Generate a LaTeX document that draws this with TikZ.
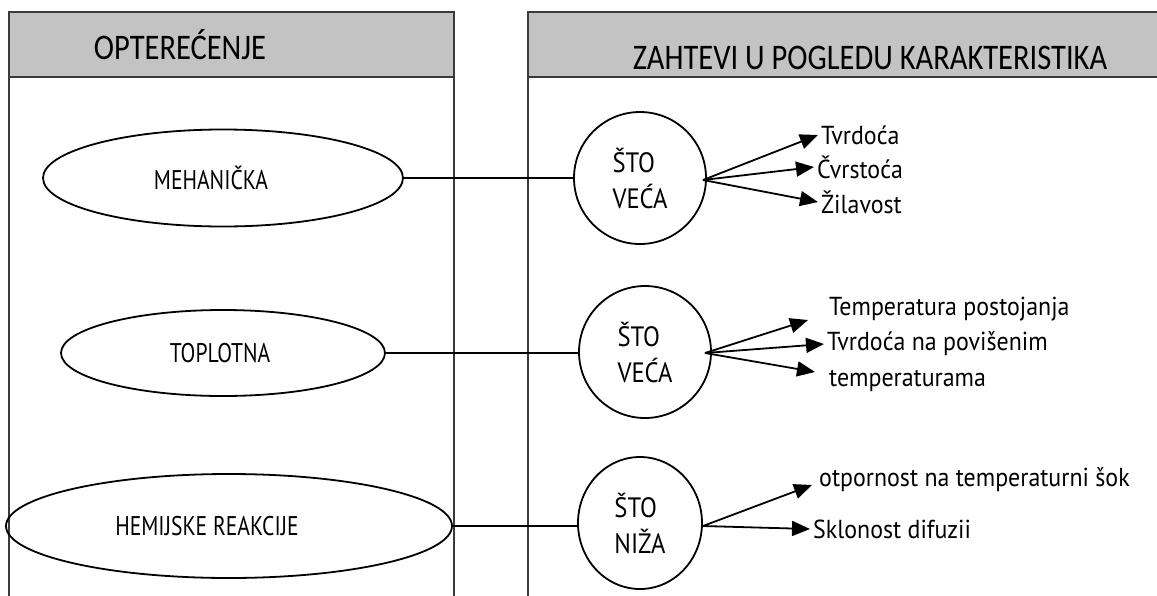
\documentclass[tikz,border=0pt]{standalone}
\usepackage{fontspec}
\setmainfont{PT Sans}
\newfontfamily\hdrfont{Carlito}
\newfontfamily\circfont[FakeStretch=0.88]{PT Sans}
\newfontfamily\itemfont[FakeStretch=0.92]{PT Sans}
\newfontfamily\ellfont[FakeStretch=0.8]{PT Sans}
\usetikzlibrary{arrows.meta,shapes.geometric}
\definecolor{hdrgray}{HTML}{C3C3C3}
\definecolor{panelline}{HTML}{3A3A3A}
\tikzset{
  panel/.style={draw=panelline, line width=2pt},
  hdrtext/.style={font=\hdrfont\fontsize{30.5}{34}\selectfont, inner sep=0pt},
  ell/.style={draw, ellipse, line width=1.8pt, inner sep=0pt, font=\ellfont\fontsize{27}{30}\selectfont},
  circ/.style={draw, circle, line width=1.8pt, inner sep=0pt, minimum size=132pt, align=left, font=\circfont\fontsize{28}{36}\selectfont},
  conn/.style={line width=1.8pt},
  arr/.style={line width=1.8pt, -{Triangle[length=18pt,width=15pt]}},
  item/.style={anchor=west, inner sep=3pt, font=\itemfont\fontsize{26}{36}\selectfont}
}
\begin{document}
\begin{tikzpicture}[x=1pt,y=-1pt]
\useasboundingbox (0,0) rectangle (1157,595);
\clip (0,0) rectangle (1157,595);
\fill[white] (0,0) rectangle (1157,595);
% left panel
\fill[hdrgray] (9,12) rectangle (454,77);
\draw[panel] (9,610) -- (9,12) -- (454,12) -- (454,610);
\draw[panel] (9,77) -- (454,77);
% right panel
\fill[hdrgray] (528,12) rectangle (1175,77);
\draw[panel] (528,610) -- (528,12) -- (1175,12);
\draw[panel] (528,77) -- (1175,77);
\node[hdrtext] (hL) at (180,45) {\scalebox{1}[1.18]{OPTEREĆENJE}};
\node[hdrtext] (hR) at (870,58) {\scalebox{1}[1.18]{ZAHTEVI U POGLEDU KARAKTERISTIKA}};
% ellipses
\node[ell, minimum width=360pt, minimum height=97pt] (e1) at (223,178) {\kern-24pt MEHANIČKA};
\node[ell, minimum width=324pt, minimum height=86pt] (e2) at (223,353) {\kern-6pt TOPLOTNA};
\node[ell, minimum width=446pt, minimum height=104pt] (e3) at (229,526) {\kern-44pt HEMIJSKE REAKCIJE};
% circles
\node[circ] (c1) at (640,178) {ŠTO\\VEĆA};
\node[circ] (c2) at (645,352) {ŠTO\\VEĆA};
\node[circ, ellipse, minimum width=124pt, minimum height=132pt] (c3) at (640,523) {ŠTO\\NIŽA};
% connectors
\draw[conn] (e1.east) -- (e1.east -| c1.west);
\draw[conn] (e2.east) -- (e2.east -| c2.west);
\draw[conn] (e3.east) -- (e3.east -| c3.west);
% items
\node[item] (t11) at (818,135) {Tvrdoća};
\node[item] (t12) at (814,167) {Čvrstoća};
\node[item] (t13) at (818,202) {Žilavost};
\node[item] (t21) at (826,309) {Temperatura postojanja};
\node[item] (t22) at (824,344) {Tvrdoća na povišenim};
\node[item] (t23) at (826,381) {temperaturama};
\node[item] (t31) at (816,480) {otpornost na temperaturni šok};
\node[item] (t32) at (810,529) {Sklonost difuzii};
% arrows
\coordinate (o1) at (703,180);
\coordinate (o2) at (705,353);
\coordinate (o3) at (703,526);
\coordinate (p21) at (808,320);
\coordinate (p23) at (815,372);
\coordinate (p31) at (812,485);
\draw[arr] (o1) -- (t11.west);
\draw[arr] (o1) -- (t12.west);
\draw[arr] (o1) -- (t13.west);
\draw[arr] (o2) -- (p21);
\draw[arr] (o2) -- (t22.west);
\draw[arr] (o2) -- (p23);
\draw[arr] (o3) -- (p31);
\draw[arr] (o3) -- (t32.west);
\end{tikzpicture}
\end{document}
